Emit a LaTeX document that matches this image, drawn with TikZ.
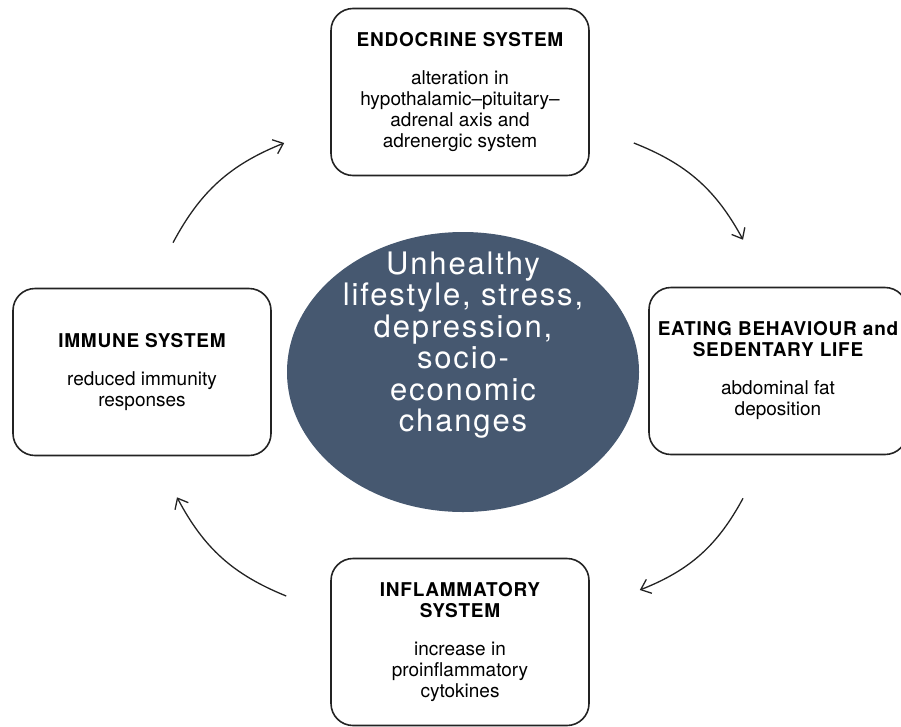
\documentclass[tikz,border=0pt]{standalone}
\usepackage{fontspec}
\setmainfont{TeX Gyre Heros}
\newfontfamily\hubfont[LetterSpace=6]{TeX Gyre Heros}
\newfontfamily\headfont[LetterSpace=4]{TeX Gyre Heros}
\newcommand\syshead[1]{{\headfont\bfseries #1}}
\usetikzlibrary{arrows.meta,shapes.geometric}
\definecolor{hubblue}{RGB}{70,88,112}
\definecolor{inkline}{RGB}{35,35,35}

\begin{document}
\begin{tikzpicture}[x=1pt, y=-1pt,
		sysbox/.style = {draw=inkline, line width=1.6pt, rounded corners=22pt, minimum width=258pt, minimum height=167pt, inner sep=0pt, align=center, font=\fontsize{19}{21}\selectfont},
		hub/.style = {ellipse, fill=hubblue, minimum width=352pt, minimum height=280pt, inner sep=0pt},
		hubtext/.style = {text=white, align=center, inner sep=0pt, font={\hubfont\fontsize{31}{31.5}\selectfont}},
		cyclearrow/.style = {draw=inkline, line width=1.3pt, -{Straight Barb[length=9pt,width=15pt]}, bend left=20}]
		\useasboundingbox (0,0) rectangle (901,726);
		\node[hub] (hub) at (463,372) {};
		\node[hubtext] (cause) at (463,345) {Unhealthy\\ lifestyle, stress,\\ depression,\\ socio-\\ economic\\ changes};
		\node[sysbox] (endo) at (460,92) {\syshead{ENDOCRINE SYSTEM}\\[17pt] alteration in\\ hypothalamic--pituitary--\\ adrenal axis and\\ adrenergic system};
		\node[sysbox] (eating) at (778,371) {\syshead{EATING BEHAVIOUR and}\\ \syshead{SEDENTARY LIFE}\\[17pt] abdominal fat\\ deposition};
		\node[sysbox] (inflam) at (460,642) {\syshead{INFLAMMATORY}\\ \syshead{SYSTEM}\\[17pt] increase in\\ proinflammatory\\ cytokines};
		\node[sysbox] (immune) at (142,372) {\syshead{IMMUNE SYSTEM}\\[17pt] reduced immunity\\ responses};
		\draw[cyclearrow] ([shift={(31,-45)}]immune.north) to ([shift={(-46,51)}]endo.west);
		\draw[cyclearrow] ([shift={(44,51)}]endo.east) to ([shift={(-35,-47)}]eating.north);
		\draw[cyclearrow] ([shift={(-35,43)}]eating.south) to ([shift={(50,-52)}]inflam.east);
		\draw[cyclearrow] ([shift={(-44,-46)}]inflam.west) to ([shift={(35,41)}]immune.south);
	\end{tikzpicture}
\end{document}
